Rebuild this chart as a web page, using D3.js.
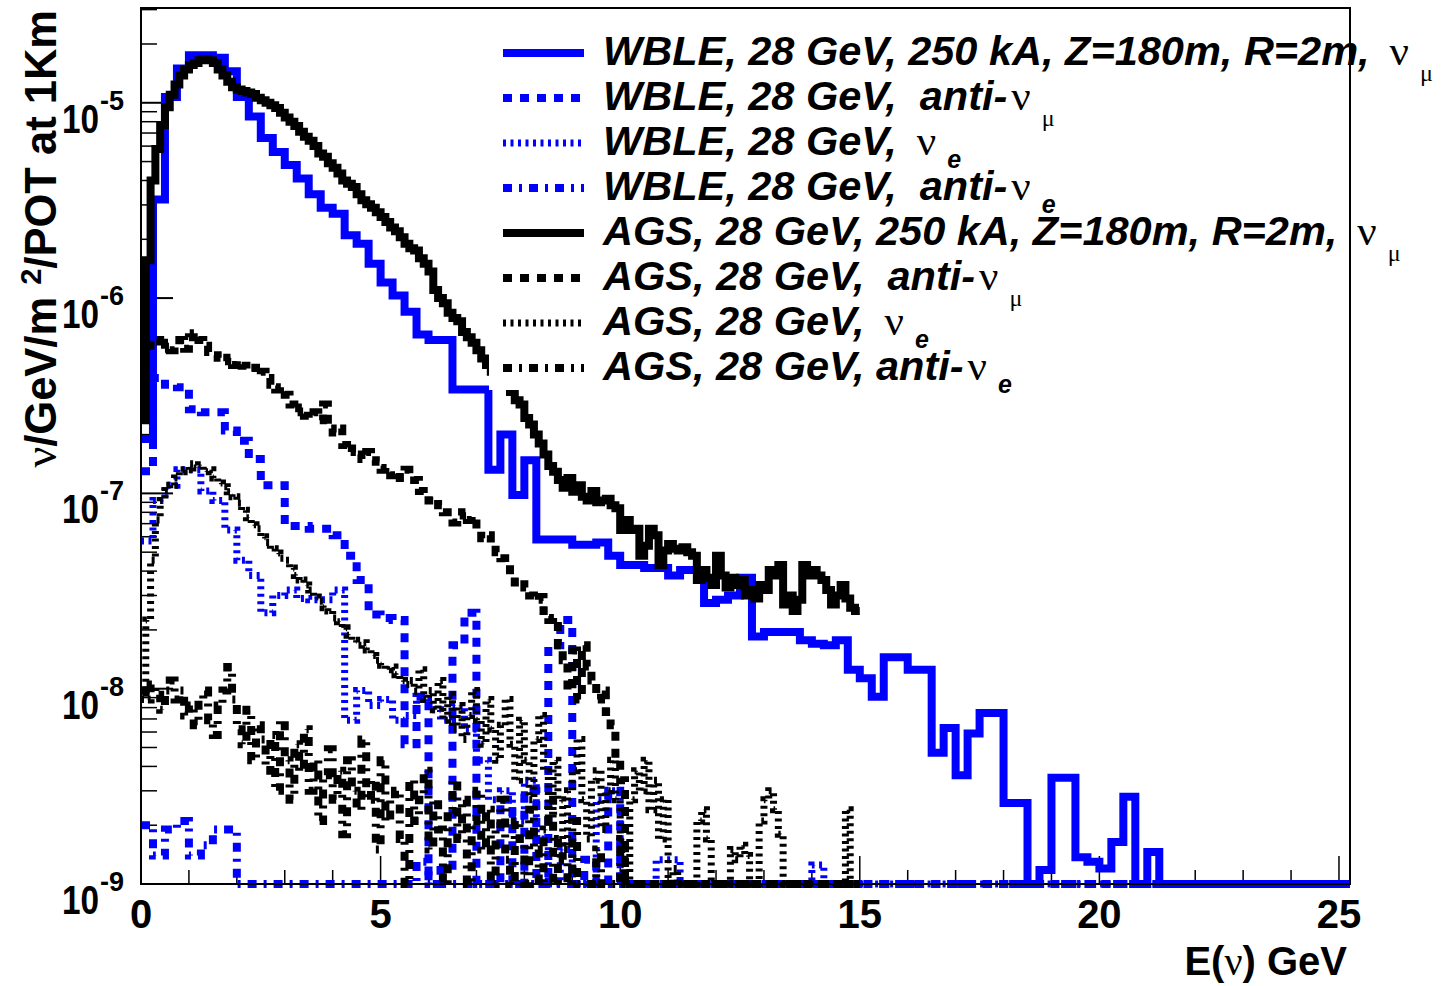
<!DOCTYPE html>
<html><head><meta charset="utf-8">
<script src="https://cdn.jsdelivr.net/npm/d3@7"></script>
<style>body{margin:0;background:#fff}text{white-space:pre}</style>
</head><body>
<svg id="c" width="1441" height="986"></svg>
<script>
// ---------------- DATA ----------------
// WBLE histograms: 0.25 GeV bins starting at 0
const wbleNuMu = [1.9e-7,3.2e-6,1.07e-5,1.5e-5,1.75e-5,1.75e-5,1.7e-5,1.45e-5,1.07e-5,8.5e-6,
 6.6e-6,5.6e-6,4.8e-6,4.1e-6,3.4e-6,2.9e-6,2.7e-6,2.1e-6,1.9e-6,1.5e-6,
 1.2e-6,1.03e-6,8.5e-7,6.5e-7,6.1e-7,6.1e-7,3.4e-7,3.4e-7,3.4e-7,1.32e-7,
 2.0e-7,9.8e-8,1.48e-7,5.8e-8,5.8e-8,5.8e-8,5.45e-8,5.45e-8,5.6e-8,4.8e-8,
 4.3e-8,4.3e-8,4.15e-8,4.15e-8,3.8e-8,4.05e-8,4.05e-8,2.75e-8,2.85e-8,3.0e-8,
 3.7e-8,1.85e-8,1.95e-8,1.95e-8,1.95e-8,1.77e-8,1.7e-8,1.67e-8,1.77e-8,1.25e-8,
 1.13e-8,9.1e-9,1.45e-8,1.45e-8,1.25e-8,1.25e-8,4.7e-9,6.3e-9,3.6e-9,5.9e-9,
 7.5e-9,7.5e-9,2.6e-9,2.6e-9,0,1.18e-9,3.5e-9,3.5e-9,1.37e-9,1.3e-9,
 1.2e-9,1.64e-9,2.8e-9,0,1.46e-9,0,0,0,0,0,
 0,0,0,0,0,0,0,0,0,0,0];
const wbleAntiNuMu = [1.3e-7,3.9e-7,3.6e-7,3.5e-7,2.7e-7,2.6e-7,2.6e-7,2.1e-7,1.86e-7,1.5e-7,
 1.1e-7,1.1e-7,6.8e-8,6.8e-8,6.6e-8,6.6e-8,6.1e-8,4.8e-8,3.6e-8,2.4e-8,
 2.3e-8,2.25e-8,5.2e-9,9.1e-9,0,1.18e-9,1.67e-8,2.45e-8,0,0,
 2.7e-9,0,3.0e-9,0,1.67e-8,2.25e-8,0,1.33e-9,0,3.0e-9,
 0,0,0,0,0,0,0,0,0,0,
 0,0,0,0,0,0,0,0,0,0,
 0,0,0,0,0,0,0,0,0,0,
 0,0,0,0,0,0,0,0,0,0,
 0,0,0,0,0,0,0,0,0,0,
 0,0,0,0,0,0,0,0,0,0,0];
const wbleNuE = [5.7e-8,9.2e-8,1.1e-7,1.32e-7,1.32e-7,1.03e-7,9.2e-8,6.5e-8,4.55e-8,3.8e-8,
 2.45e-8,3.0e-8,3.2e-8,2.9e-8,2.85e-8,2.85e-8,3.2e-8,6.9e-9,9.8e-9,8.2e-9,
 8.8e-9,6.9e-9,7.3e-9,8.8e-9,7.8e-9,6.9e-9,8.2e-9,6.2e-9,4.3e-9,2.7e-9,
 3.0e-9,2.1e-9,3.4e-9,1.7e-9,0,1.5e-9,0,0,2.7e-9,3.0e-9,
 0,0,0,1.33e-9,1.33e-9,0,0,0,0,0,
 0,0,0,0,0,0,1.25e-9,0,0,0,
 0,0,0,0,0,0,0,0,0,0,
 0,0,0,0,0,0,0,0,0,0,
 0,0,0,0,0,0,0,0,0,0,
 0,0,0,0,0,0,0,0,0,0,0];
const wbleAntiNuE = [2.0e-9,1.4e-9,1.9e-9,2.1e-9,1.4e-9,1.58e-9,1.9e-9,1.9e-9,0,0,
 0,0,0,0,0,0,0,0,0,0,
 0,0,0,1.3e-9,0,0,0,0,0,0,
 0,0,0,0,0,0,0,0,0,0,
 0,0,0,0,0,0,0,0,0,0,
 0,0,0,0,0,0,0,0,0,0,
 0,0,0,0,0,0,0,0,0,0,
 0,0,0,0,0,0,0,0,0,0,
 0,0,0,0,0,0,0,0,0,0,
 0,0,0,0,0,0,0,0,0,0,0];
// AGS histograms: 0.1 GeV bins, 0 - 15 GeV
const agsNuMu = [2.37e-7,1.56e-6,4.0e-6,5.8e-6,7.7e-6,9.5e-6,1.1e-5,1.24e-5,1.38e-5,1.48e-5,
 1.56e-5,1.6e-5,1.65e-5,1.67e-5,1.65e-5,1.6e-5,1.48e-5,1.38e-5,1.28e-5,1.2e-5,
 1.17e-5,1.15e-5,1.13e-5,1.11e-5,1.06e-5,1.03e-5,1.0e-5,9.7e-6,9.4e-6,8.9e-6,
 8.4e-6,8.0e-6,7.6e-6,7.1e-6,6.7e-6,6.4e-6,6.0e-6,5.5e-6,5.3e-6,4.9e-6,
 4.65e-6,4.35e-6,4.0e-6,3.85e-6,3.7e-6,3.4e-6,3.17e-6,3.02e-6,2.9e-6,2.75e-6,
 2.6e-6,2.45e-6,2.3e-6,2.2e-6,2.05e-6,1.9e-6,1.8e-6,1.75e-6,1.6e-6,1.5e-6,
 1.37e-6,1.1e-6,1.0e-6,9.4e-7,8.4e-7,7.9e-7,7.6e-7,6.7e-7,6.3e-7,5.9e-7,
 5.4e-7,4.9e-7,4.55e-7,4.2e-7,3.9e-7,3.75e-7,3.6e-7,3.3e-7,3.0e-7,2.85e-7,
 2.43e-7,2.25e-7,2.0e-7,1.8e-7,1.58e-7,1.38e-7,1.29e-7,1.17e-7,1.07e-7,1.2e-7,
 1.02e-7,1.1e-7,9.6e-8,9.2e-8,1.03e-7,9.0e-8,9.2e-8,9.4e-8,8.7e-8,8.4e-8,
 6.5e-8,7.3e-8,6.5e-8,6.6e-8,4.8e-8,5.4e-8,6.6e-8,6.1e-8,4.3e-8,5.1e-8,
 5.5e-8,5.2e-8,5.1e-8,5.3e-8,5.0e-8,4.8e-8,3.6e-8,4.05e-8,3.7e-8,3.4e-8,
 4.8e-8,3.8e-8,3.3e-8,3.7e-8,3.4e-8,3.6e-8,3.0e-8,3.2e-8,2.9e-8,3.4e-8,
 3.2e-8,4.05e-8,3.8e-8,4.3e-8,2.7e-8,3.0e-8,2.5e-8,2.85e-8,4.3e-8,3.8e-8,
 4.05e-8,3.8e-8,3.6e-8,3.2e-8,2.7e-8,3.0e-8,3.4e-8,2.9e-8,2.6e-8,2.5e-8];
const agsAntiNuMu = [6.2e-7,6.4e-7,5.7e-7,6.1e-7,5.5e-7,5.9e-7,5.4e-7,5.7e-7,6.1e-7,5.5e-7,
 6.3e-7,6.6e-7,6.1e-7,5.7e-7,5.3e-7,5.1e-7,4.95e-7,4.75e-7,4.95e-7,4.55e-7,
 4.75e-7,4.5e-7,4.3e-7,4.4e-7,4.05e-7,4.2e-7,3.9e-7,3.6e-7,3.4e-7,3.5e-7,
 3.2e-7,2.85e-7,2.6e-7,2.75e-7,2.5e-7,2.43e-7,2.6e-7,2.37e-7,2.85e-7,2.15e-7,
 2.05e-7,2.15e-7,1.77e-7,1.63e-7,1.7e-7,1.58e-7,1.5e-7,1.63e-7,1.48e-7,1.45e-7,
 1.32e-7,1.35e-7,1.24e-7,1.29e-7,1.2e-7,1.32e-7,1.22e-7,1.17e-7,1.03e-7,9.8e-8,
 9.2e-8,9.4e-8,8.7e-8,8.0e-8,7.5e-8,7.1e-8,7.7e-8,8.0e-8,7.3e-8,7.6e-8,
 6.5e-8,5.9e-8,6.1e-8,5.4e-8,5.0e-8,4.65e-8,4.4e-8,3.8e-8,3.5e-8,3.6e-8,
 3.3e-8,3.0e-8,2.85e-8,2.95e-8,2.5e-8,2.25e-8,2.3e-8,1.67e-8,1.4e-8,9.8e-9,
 1.57e-8,8.8e-9,1.67e-8,1.3e-8,1.1e-8,8.8e-9,9.8e-9,7.6e-9,6.5e-9,4.3e-9,
 3.4e-9,0,0,0,0,0,0,0,0,0,
 0,0,0,0,0,0,0,0,0,0,
 0,0,0,0,0,0,0,0,0,0,
 0,0,0,0,0,0,0,0,0,0,
 0,0,0,0,0,0,0,0,0,0];
const agsNuE = [8.8e-9,2.25e-8,4.55e-8,7.3e-8,9.2e-8,1.03e-7,1.1e-7,1.2e-7,1.29e-7,1.32e-7,
 1.42e-7,1.35e-7,1.4e-7,1.29e-7,1.32e-7,1.2e-7,1.13e-7,1.08e-7,1.02e-7,9.6e-8,
 8.9e-8,8.2e-8,7.5e-8,6.9e-8,6.6e-8,6.0e-8,5.6e-8,5.2e-8,4.95e-8,4.65e-8,
 4.55e-8,4.15e-8,3.8e-8,3.6e-8,3.4e-8,3.2e-8,2.95e-8,2.8e-8,2.6e-8,2.5e-8,
 2.3e-8,2.2e-8,2.05e-8,1.88e-8,1.77e-8,1.67e-8,1.72e-8,1.58e-8,1.48e-8,1.4e-8,
 1.32e-8,1.25e-8,1.29e-8,1.18e-8,1.1e-8,1.05e-8,1.1e-8,9.7e-9,1.25e-8,8.8e-9,
 9.8e-9,7.8e-9,1.1e-8,6.9e-9,9.3e-9,6.2e-9,8.2e-9,5.5e-9,7.3e-9,9.8e-9,
 6.9e-9,5.2e-9,8.8e-9,6.2e-9,4.3e-9,6.5e-9,8.8e-9,5.2e-9,3.4e-9,6.9e-9,
 4.3e-9,2.7e-9,5.5e-9,7.3e-9,3.8e-9,2.1e-9,4.3e-9,2.7e-9,1.5e-9,3.0e-9,
 3.8e-9,5.5e-9,2.7e-9,1.7e-9,3.4e-9,3.8e-9,1.9e-9,3.0e-9,4.3e-9,2.7e-9,
 1.5e-9,0,2.7e-9,3.8e-9,3.0e-9,4.3e-9,2.4e-9,3.4e-9,1.7e-9,2.7e-9,
 0,1.2e-9,0,0,0,0,2.1e-9,2.4e-9,1.7e-9,0,
 0,0,0,1.5e-9,1.33e-9,1.58e-9,1.4e-9,0,0,2.1e-9,
 2.7e-9,3.0e-9,2.4e-9,1.8e-9,0,0,0,0,0,0,
 0,0,0,0,0,0,0,2.4e-9,0,0];
const agsAntiNuE = [9.8e-9,8.8e-9,1.05e-8,9.3e-9,7.8e-9,9.8e-9,1.1e-8,8.8e-9,9.8e-9,7.3e-9,
 8.2e-9,6.5e-9,8.8e-9,9.8e-9,6.9e-9,5.8e-9,8.2e-9,9.8e-9,1.29e-8,8.8e-9,
 6.2e-9,5.2e-9,7.8e-9,4.3e-9,6.5e-9,5.5e-9,3.8e-9,5.8e-9,3.0e-9,6.9e-9,
 4.3e-9,2.7e-9,5.2e-9,3.8e-9,6.2e-9,3.0e-9,4.3e-9,2.1e-9,3.6e-9,4.9e-9,
 2.7e-9,3.8e-9,1.8e-9,4.3e-9,3.0e-9,2.4e-9,5.5e-9,2.7e-9,3.4e-9,1.5e-9,
 4.3e-9,2.1e-9,2.7e-9,3.0e-9,1.7e-9,0,3.4e-9,2.1e-9,2.7e-9,3.8e-9,
 1.5e-9,2.7e-9,1.9e-9,0,2.4e-9,3.4e-9,1.7e-9,2.7e-9,0,2.1e-9,
 3.0e-9,1.5e-9,2.4e-9,0,1.9e-9,2.7e-9,1.33e-9,0,2.1e-9,1.7e-9,
 0,2.4e-9,1.5e-9,0,1.9e-9,2.7e-9,0,1.7e-9,1.33e-9,0,
 2.1e-9,0,0,0,0,1.5e-9,0,0,0,0,
 1.7e-9,0,0,0,0,0,0,0,0,0,
 0,0,0,0,0,0,0,0,0,0,
 0,0,0,0,0,0,0,0,0,0,
 0,0,0,0,0,0,0,0,0,0,
 0,0,0,0,0,0,0,0,0,0];
const wbleBin = 0.25, agsBin = 0.1;
const xTickLabels = ["0","5","10","15","20","25"];
const yDecades = [-9,-8,-7,-6,-5];

// ---------------- CHART ----------------
const svg = d3.select("#c");
const F = {l:141, t:8, r:1350, b:884};
const x = d3.scaleLinear().domain([0, 25.23]).range([F.l, F.r]);
const y = d3.scaleLog().domain([1e-9, 3.057e-5]).range([F.b, F.t]);
const ymin = 1e-9;
const SANS = "Liberation Sans, Arial, sans-serif", SERIF = "Liberation Serif, serif";

svg.append("defs").append("clipPath").attr("id","clip")
  .append("rect").attr("x",F.l-4).attr("y",F.t).attr("width",F.r-F.l+4).attr("height",F.b-F.t+6);

const axes = svg.append("g");
yDecades.forEach(k=>{
  const v = Math.pow(10,k);
  axes.append("line").attr("x1",F.l).attr("x2",F.l+32).attr("y1",y(v)).attr("y2",y(v))
    .attr("stroke","#000").attr("stroke-width",2);
  for(let m=2;m<=9;m++){
    const vv=m*v; if(vv>y.domain()[1]) continue;
    axes.append("line").attr("x1",F.l).attr("x2",F.l+16).attr("y1",y(vv)).attr("y2",y(vv))
      .attr("stroke","#000").attr("stroke-width",1.5);
  }
});
d3.range(0,26,1).forEach(v=>{
  const L = v%5===0 ? 28 : 14;
  axes.append("line").attr("x1",x(v)).attr("x2",x(v)).attr("y1",F.b).attr("y2",F.b-L)
    .attr("stroke","#000").attr("stroke-width",1.5);
});

function histPath(vals, w){
  const pts = vals.map((v,i)=>[i*w, Math.max(v,ymin)]);
  pts.push([vals.length*w, Math.max(vals[vals.length-1],ymin)]);
  return d3.line().x(d=>x(d[0])).y(d=>y(d[1])).curve(d3.curveStepAfter)(pts);
}
const series = [
  {vals:wbleNuMu, w:wbleBin, color:"#0000ff", dash:null, sw:8},
  {vals:wbleAntiNuMu, w:wbleBin, color:"#0000ff", dash:"9,8", sw:8},
  {vals:wbleNuE, w:wbleBin, color:"#0000ff", dash:"3,4.5", sw:7},
  {vals:wbleAntiNuE, w:wbleBin, color:"#0000ff", dash:"9,7,3,7", sw:8},
  {vals:agsNuMu, w:agsBin, color:"#000000", dash:null, sw:8},
  {vals:agsAntiNuMu, w:agsBin, color:"#000000", dash:"9,8", sw:8},
  {vals:agsNuE, w:agsBin, color:"#000000", dash:"3,4.5", sw:7},
  {vals:agsAntiNuE, w:agsBin, color:"#000000", dash:"9,7,3,7", sw:8},
];
const hg = svg.append("g").attr("clip-path","url(#clip)");
series.forEach(s=>{
  hg.append("path").attr("d",histPath(s.vals,s.w)).attr("fill","none")
    .attr("stroke",s.color).attr("stroke-width",s.sw)
    .attr("stroke-dasharray",s.dash).attr("stroke-linejoin","miter").attr("stroke-linecap","butt");
});

// legend
const lg = svg.append("g");
lg.append("rect").attr("x",489).attr("y",12).attr("width",952).attr("height",378).attr("fill","#fff");
const legendRows = [
  {main:"WBLE, 28 GeV, 250 kA, Z=180m, R=2m,", sub:"μ"},
  {main:"WBLE, 28 GeV,  anti-", sub:"μ"},
  {main:"WBLE, 28 GeV,", sub:"e"},
  {main:"WBLE, 28 GeV,  anti-", sub:"e"},
  {main:"AGS, 28 GeV, 250 kA, Z=180m, R=2m,", sub:"μ"},
  {main:"AGS, 28 GeV,  anti-", sub:"μ"},
  {main:"AGS, 28 GeV,", sub:"e"},
  {main:"AGS, 28 GeV, anti-", sub:"e"},
];
legendRows.forEach((r,i)=>{
  const base = 65 + i*45;
  const s = series[i];
  lg.append("line").attr("x1",503).attr("x2",584).attr("y1",base-12).attr("y2",base-12)
    .attr("stroke",s.color).attr("stroke-width",s.sw).attr("stroke-dasharray",s.dash);
  const t = lg.append("text").attr("x",603).attr("y",base)
    .attr("font-family",SANS).attr("font-size",41.5)
    .attr("font-weight","bold").attr("font-style","italic").attr("fill","#000");
  t.append("tspan").text(r.main);
  const gap = r.main.endsWith(",") ? 20 : 4;
  t.append("tspan").attr("dx",gap).attr("font-family",SERIF).attr("font-weight","normal")
    .attr("font-style","normal").attr("font-size",43).text("ν");
  if(r.sub==="μ"){
    t.append("tspan").attr("dx",11).attr("dy",16).attr("font-size",24)
      .attr("font-family",SERIF).attr("font-weight","normal").attr("font-style","normal").text("μ");
  } else {
    t.append("tspan").attr("dx",11).attr("dy",13).attr("font-size",25).text("e");
  }
});

// frame
svg.append("rect").attr("x",F.l).attr("y",F.t).attr("width",F.r-F.l).attr("height",F.b-F.t)
  .attr("fill","none").attr("stroke","#000").attr("stroke-width",2);

// x tick labels
xTickLabels.forEach(lab=>{
  svg.append("text").attr("x",x(+lab)).attr("y",928).attr("text-anchor","middle")
    .attr("font-family",SANS).attr("font-weight","bold").attr("font-size",40).text(lab);
});
// y tick labels
yDecades.forEach(k=>{
  const yy = y(Math.pow(10,k));
  svg.append("text").attr("x",62).attr("y",yy+30)
    .attr("font-family",SANS).attr("font-weight","bold").attr("font-size",41)
    .attr("textLength",37).attr("lengthAdjust","spacingAndGlyphs").text("10");
  svg.append("text").attr("x",100).attr("y",yy+7)
    .attr("font-family",SANS).attr("font-weight","bold").attr("font-size",27).text(String(k));
});
// x title
const xt = svg.append("text").attr("x",1347).attr("y",975).attr("text-anchor","end")
  .attr("font-family",SANS).attr("font-weight","bold").attr("font-size",40);
xt.append("tspan").text("E(");
xt.append("tspan").attr("font-family",SERIF).attr("font-weight","normal").text("ν");
xt.append("tspan").text(") GeV");
// y title
const yt = svg.append("text").attr("transform","translate(56,10) rotate(-90)").attr("text-anchor","end")
  .attr("font-family",SANS).attr("font-weight","bold").attr("font-size",43.5);
yt.append("tspan").attr("font-family",SERIF).attr("font-weight","normal").attr("font-size",46).text("ν");
yt.append("tspan").text("/GeV/m ");
yt.append("tspan").attr("dy",-15).attr("font-size",29).text("2");
yt.append("tspan").attr("dy",15).text("/POT at 1Km");
</script>
</body></html>
